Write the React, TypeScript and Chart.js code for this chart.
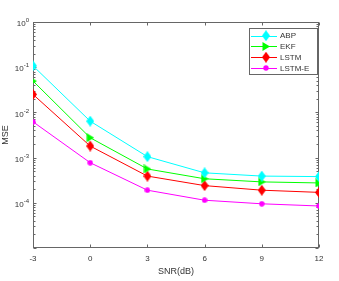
import React, { useEffect, useRef } from 'react';
import { Chart, registerables } from 'chart.js';

Chart.register(...registerables);

const snrValues = [-3, 0, 3, 6, 9, 12];
const xTickValues = [-3, 0, 3, 6, 9, 12];
const yTickExponents = [0, -1, -2, -3, -4];

const abpMse = [0.107, 0.0064, 0.00105, 4.6e-4, 3.9e-4, 3.8e-4];
const ekfMse = [0.0495, 0.00275, 5.6e-4, 3.4e-4, 2.9e-4, 2.75e-4];
const lstmMse = [0.025, 0.0018, 3.9e-4, 2.4e-4, 1.9e-4, 1.7e-4];
const lstmEMse = [0.0062, 7.7e-4, 1.9e-4, 1.14e-4, 9.5e-5, 8.5e-5];

const seriesNames = ['ABP', 'EKF', 'LSTM', 'LSTM-E'];
const seriesColors = ['#00FFFF', '#00FF00', '#FF0000', '#FF00FF'];
const seriesMarkers = ['diamond', 'triangle', 'diamond', 'circle'];

const FONT = '"Liberation Sans", Arial, Helvetica, sans-serif';
const AXIS_COLOR = '#666666';
const TEXT_COLOR = '#333333';

function makeMarker(kind: string, color: string): HTMLCanvasElement {
  const c = document.createElement('canvas');
  let w = 8, h = 11;
  if (kind === 'triangle') { w = 8; h = 9; }
  if (kind === 'circle') { w = 6; h = 6; }
  c.width = w; c.height = h;
  const g = c.getContext('2d')!;
  g.fillStyle = color;
  g.beginPath();
  if (kind === 'diamond') {
    g.moveTo(w / 2, 0); g.lineTo(w, h / 2); g.lineTo(w / 2, h); g.lineTo(0, h / 2); g.closePath();
  } else if (kind === 'triangle') {
    g.moveTo(0.5, 0); g.lineTo(w, h / 2); g.lineTo(0.5, h); g.closePath();
  } else {
    g.arc(w / 2, h / 2, w / 2 - 0.3, 0, Math.PI * 2);
  }
  g.fill();
  return c;
}

const axesPlugin = {
  id: 'matlabAxes',
  beforeDatasetsDraw(chart: any) {
    const { ctx, chartArea: a, scales } = chart;
    const xs = scales.x, ys = scales.y;
    const L = Math.round(a.left) + 0.5, R = Math.round(a.right) - 0.5;
    const T = Math.round(a.top) + 0.5, B = Math.round(a.bottom) - 0.5;
    ctx.save();
    ctx.strokeStyle = AXIS_COLOR;
    ctx.lineWidth = 1;
    ctx.strokeRect(L, T, R - L, B - T);
    ctx.beginPath();
    for (const v of xTickValues) {
      const px = Math.round(xs.getPixelForValue(v)) + 0.5;
      ctx.moveTo(px, B); ctx.lineTo(px, B - 3);
      ctx.moveTo(px, T); ctx.lineTo(px, T + 3);
    }
    for (let e = -5; e <= 0; e++) {
      for (let k = 1; k <= 9; k++) {
        const v = k * Math.pow(10, e);
        if (v > 1.0000001) break;
        const py = Math.round(ys.getPixelForValue(v)) + 0.5;
        const len = k === 1 ? 3 : 2;
        ctx.moveTo(L, py); ctx.lineTo(L + len, py);
        ctx.moveTo(R, py); ctx.lineTo(R - len, py);
      }
    }
    ctx.stroke();
    // y tick labels with superscript exponents
    ctx.fillStyle = TEXT_COLOR;
    ctx.textBaseline = 'middle';
    for (const e of yTickExponents) {
      const py = ys.getPixelForValue(Math.pow(10, e));
      const expText = e === 0 ? '0' : '-' + String(-e);
      ctx.font = `6px ${FONT}`;
      const ew = ctx.measureText(expText).width;
      const right = 29;
      ctx.textAlign = 'left';
      ctx.fillText(expText, right - ew, py - 1.5);
      ctx.font = `8px ${FONT}`;
      ctx.textAlign = 'right';
      ctx.fillText('10', right - ew, py + 2);
    }
    ctx.restore();
  },
  afterDraw(chart: any) {
    const { ctx } = chart;
    const bx = 249.5, by = 28.5, bw = 68, bh = 46;
    ctx.save();
    ctx.fillStyle = '#ffffff';
    ctx.fillRect(bx, by, bw, bh);
    ctx.strokeStyle = AXIS_COLOR;
    ctx.lineWidth = 1;
    ctx.strokeRect(bx, by, bw, bh);
    ctx.font = `8px ${FONT}`;
    ctx.textBaseline = 'middle';
    ctx.textAlign = 'left';
    chart.data.datasets.forEach((ds: any, i: number) => {
      const y = 35.7 + i * 10.75;
      ctx.strokeStyle = ds.borderColor;
      ctx.beginPath();
      ctx.moveTo(251, Math.round(y) + 0.5);
      ctx.lineTo(277, Math.round(y) + 0.5);
      ctx.stroke();
      const img = ds.pointStyle as HTMLCanvasElement;
      ctx.drawImage(img, 266 - img.width / 2, y - img.height / 2);
      ctx.fillStyle = TEXT_COLOR;
      ctx.fillText(ds.label, 280, y + 0.5);
    });
    ctx.restore();
  },
};

export default function App() {
  const ref = useRef<HTMLCanvasElement | null>(null);
  useEffect(() => {
    if (!ref.current) return;
    const seriesData = [abpMse, ekfMse, lstmMse, lstmEMse];
    const datasets = seriesData.map((vals, i) => ({
      label: seriesNames[i],
      data: vals.map((v, j) => ({ x: snrValues[j], y: v })),
      borderColor: seriesColors[i],
      backgroundColor: seriesColors[i],
      borderWidth: 1,
      pointStyle: makeMarker(seriesMarkers[i], seriesColors[i]) as any,
      pointRadius: 4,
      tension: 0,
    }));
    const chart = new Chart(ref.current, {
      type: 'line',
      data: { datasets },
      plugins: [axesPlugin],
      options: {
        animation: false,
        responsive: false,
        devicePixelRatio: 1,
        layout: { padding: { left: 0, top: 22, right: 20, bottom: 0 } },
        plugins: { legend: { display: false }, tooltip: { enabled: false } },
        scales: {
          x: {
            type: 'linear',
            min: -3,
            max: 12,
            afterBuildTicks: (s: any) => { s.ticks = xTickValues.map((v) => ({ value: v })); },
            afterFit: (s: any) => { s.height = 33; },
            grid: { display: false, drawTicks: false },
            border: { display: false },
            ticks: { color: TEXT_COLOR, font: { family: FONT, size: 8 }, padding: 6, maxRotation: 0, autoSkip: false },
            title: { display: true, text: 'SNR(dB)', color: TEXT_COLOR, font: { family: FONT, size: 9 }, padding: { top: 0, bottom: 4 } },
          },
          y: {
            type: 'logarithmic',
            min: 1e-5,
            max: 1,
            afterFit: (s: any) => { s.width = 33; },
            grid: { display: false, drawTicks: false },
            border: { display: false },
            ticks: { display: false },
            title: { display: true, text: 'MSE', color: TEXT_COLOR, font: { family: FONT, size: 9 }, padding: { top: 0, bottom: 0 } },
          },
        },
      },
    });
    return () => chart.destroy();
  }, []);
  return (
    <div style={{ position: 'absolute', left: 0, top: 0, width: 339, height: 281, background: '#fff' }}>
      <canvas ref={ref} width={339} height={281} style={{ width: 339, height: 281, display: 'block' }} />
    </div>
  );
}
